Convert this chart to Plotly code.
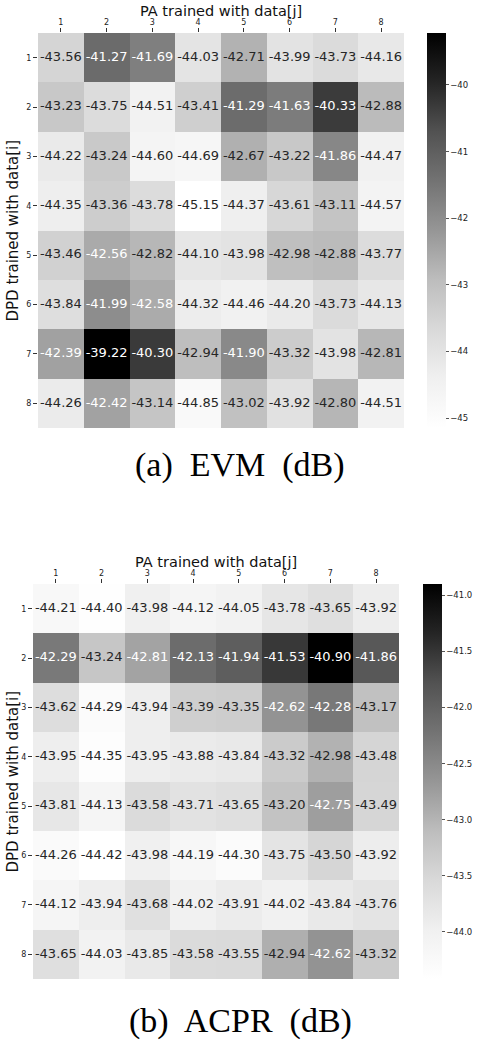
"""DPD/PA cross-training heatmaps: EVM (top) and ACPR (bottom), greyscale, annotated."""
import plotly.graph_objects as go

W, H = 480, 1043

rows = [1, 2, 3, 4, 5, 6, 7, 8]   # DPD trained with data[i]
cols = [1, 2, 3, 4, 5, 6, 7, 8]   # PA trained with data[j]

evm = [
    [-43.56, -41.27, -41.69, -44.03, -42.71, -43.99, -43.73, -44.16],
    [-43.23, -43.75, -44.51, -43.41, -41.29, -41.63, -40.33, -42.88],
    [-44.22, -43.24, -44.60, -44.69, -42.67, -43.22, -41.86, -44.47],
    [-44.35, -43.36, -43.78, -45.15, -44.37, -43.61, -43.11, -44.57],
    [-43.46, -42.56, -42.82, -44.10, -43.98, -42.98, -42.88, -43.77],
    [-43.84, -41.99, -42.58, -44.32, -44.46, -44.20, -43.73, -44.13],
    [-42.39, -39.22, -40.30, -42.94, -41.90, -43.32, -43.98, -42.81],
    [-44.26, -42.42, -43.14, -44.85, -43.02, -43.92, -42.80, -44.51],
]
acpr = [
    [-44.21, -44.40, -43.98, -44.12, -44.05, -43.78, -43.65, -43.92],
    [-42.29, -43.24, -42.81, -42.13, -41.94, -41.53, -40.90, -41.86],
    [-43.62, -44.29, -43.94, -43.39, -43.35, -42.62, -42.28, -43.17],
    [-43.95, -44.35, -43.95, -43.88, -43.84, -43.32, -42.98, -43.48],
    [-43.81, -44.13, -43.58, -43.71, -43.65, -43.20, -42.75, -43.49],
    [-44.26, -44.42, -43.98, -44.19, -44.30, -43.75, -43.50, -43.92],
    [-44.12, -43.94, -43.68, -44.02, -43.91, -44.02, -43.84, -43.76],
    [-43.65, -44.03, -43.85, -43.58, -43.55, -42.94, -42.62, -43.32],
]
evm_ticks = [-45, -44, -43, -42, -41, -40]
acpr_ticks = [-44.0, -43.5, -43.0, -42.5, -42.0, -41.5, -41.0]

# matplotlib "Greys" (white -> black)
_GREYS = ["#ffffff", "#f0f0f0", "#d9d9d9", "#bdbdbd", "#969696",
          "#737373", "#525252", "#252525", "#000000"]
GREYS = [[i / (len(_GREYS) - 1), c] for i, c in enumerate(_GREYS)]
SANS = "DejaVu Sans, sans-serif"
SERIF = "Liberation Serif, Times New Roman, serif"


def _grey_at(f):
    n = len(_GREYS) - 1
    k = min(int(f * n), n - 1)
    t = f * n - k
    a = int(_GREYS[k][1:3], 16); b = int(_GREYS[k + 1][1:3], 16)
    return (a + (b - a) * t) / 255.0


def _text_color(v, lo, hi):
    # seaborn-style: dark text on light cells, white on dark ones
    g = _grey_at((v - lo) / (hi - lo))
    lum = g / 12.92 if g <= 0.03928 else ((g + 0.055) / 1.055) ** 2.4
    return "#262626" if lum > 0.408 else "white"


def _ann(x, y, text, size, family=SANS, angle=0, color="#111"):
    # x, y in page pixels (from top-left)
    fig.add_annotation(x=x / W, y=1 - y / H, xref="paper", yref="paper",
                       xanchor="center", yanchor="middle", text=text,
                       textangle=angle, showarrow=False,
                       font=dict(family=family, size=size, color=color))


fig = go.Figure()

panels = [
    # data, ticks, xaxis, yaxis, heatmap box (px: left, right, top, bottom), cbar left px
    (evm, evm_ticks, "x", "y", (38, 404, 33, 428), 427, ".0f"),
    (acpr, acpr_ticks, "x2", "y2", (33, 399, 584, 979), 423, ".1f"),
]

for z, ticks, xa, ya, (l, r, t, b), cb_x, fmt in panels:
    flat = [v for row in z for v in row]
    lo, hi = min(flat), max(flat)
    fig.add_trace(go.Heatmap(
        z=z, x=cols, y=rows, xaxis=xa, yaxis=ya, colorscale=GREYS,
        zmin=lo, zmax=hi, hoverinfo="skip",
        colorbar=dict(x=cb_x / W, xanchor="left", xpad=0, ypad=0,
                      y=1 - (t + b) / 2 / H, yanchor="middle",
                      lenmode="pixels", len=b - t, thickness=19,
                      outlinewidth=0, ticks="outside", ticklen=3,
                      tickcolor="#555", tickvals=ticks, tickformat=fmt,
                      tickfont=dict(family=SANS, size=8.5, color="#222"))))
    xs, ys, txt, tcol = [], [], [], []
    for i, row in zip(rows, z):
        for j, v in zip(cols, row):
            xs.append(j); ys.append(i)
            txt.append(f"{v:.2f}"); tcol.append(_text_color(v, lo, hi))
    fig.add_trace(go.Scatter(
        x=xs, y=ys, xaxis=xa, yaxis=ya, mode="text", text=txt,
        textfont=dict(family=SANS, size=13, color=tcol),
        showlegend=False, hoverinfo="skip"))

    ax = dict(domain=[l / W, r / W], range=[0.5, 8.5], side="top",
              tickvals=cols, ticks="outside", ticklen=4, tickcolor="#333",
              tickfont=dict(family=SANS, size=8, color="#222"),
              showgrid=False, zeroline=False, showline=False, anchor=ya)
    ay = dict(domain=[1 - b / H, 1 - t / H], range=[8.5, 0.5],
              tickvals=rows, ticks="outside", ticklen=4, tickcolor="#333",
              tickfont=dict(family=SANS, size=8, color="#222"),
              showgrid=False, zeroline=False, showline=False, anchor=xa)
    xkey = "xaxis" if xa == "x" else "xaxis2"
    ykey = "yaxis" if ya == "y" else "yaxis2"
    fig.update_layout(**{xkey: ax, ykey: ay})

    # axis titles
    _ann((l + r) / 2, t - 22, "PA trained with data[j]", 14.5)
    _ann(12, (t + b) / 2, "DPD trained with data[i]", 15, angle=-90)

_ann(240, 465, "(a)\u00a0 EVM\u00a0 (dB)", 34, family=SERIF, color="black")
_ann(240, 1021, "(b)\u00a0 ACPR\u00a0 (dB)", 34, family=SERIF, color="black")

fig.update_layout(width=W, height=H, margin=dict(l=0, r=0, t=0, b=0),
                  paper_bgcolor="white", plot_bgcolor="white", showlegend=False)

fig.write_html("out.html", config={"displayModeBar": False},
               post_script="document.body.style.margin='0';")
